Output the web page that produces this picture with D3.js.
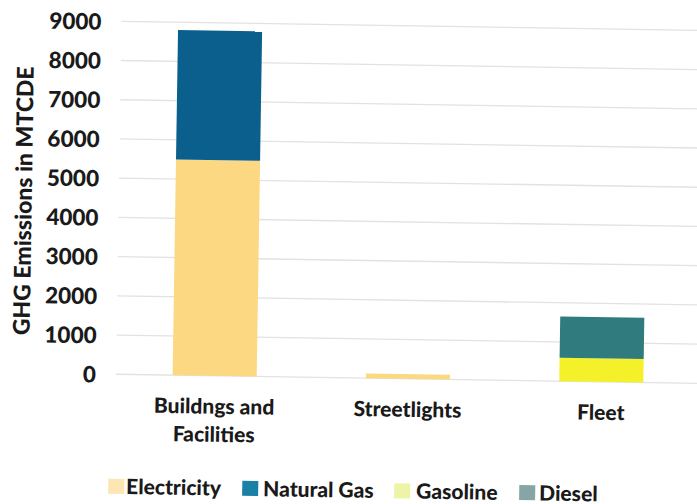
<!DOCTYPE html>
<html>
<head>
<meta charset="utf-8">
<script src="https://cdn.jsdelivr.net/npm/d3@7"></script>
<style>
  html, body { margin: 0; padding: 0; background: #fff; }
  svg { display: block; }
  text { font-family: Lato, "Open Sans", sans-serif; font-weight: 900; fill: #1a1a1a; }
</style>
</head>
<body>
<svg id="chart" width="697" height="504"></svg>
<script>
// Emission sources and their fuel breakdown (MTCDE)
const categories = ["Buildngs and\nFacilities", "Streetlights", "Fleet"];
const seriesNames = ["Electricity", "Natural Gas", "Gasoline", "Diesel"];
const electricity = [5500, 120, 0];
const naturalGas = [3300, 0, 0];
const gasoline = [0, 0, 600];
const diesel = [0, 0, 1050];
const yTicks = [0, 1000, 2000, 3000, 4000, 5000, 6000, 7000, 8000, 9000];

const barColors = ["#fdd883", "#0b5f8d", "#f4f12a", "#2f7b7d"];
const legendColors = ["#fbe6b4", "#1b80a6", "#eef4a6", "#86a6a6"];

const svg = d3.select("#chart");
// the whole page sits at a slight tilt
const g = svg.append("g").attr("transform", "rotate(0.9, 100, 374)");

const x = d3.scaleBand()
  .domain(categories)
  .range([118, 698])
  .paddingInner(0.565)
  .paddingOuter(0.2825);

const y = d3.scaleLinear().domain([0, 9000]).range([374, 21]);

// gridlines
g.append("g")
  .selectAll("line")
  .data(yTicks)
  .join("line")
  .attr("x1", 116).attr("x2", 700)
  .attr("y1", d => y(d)).attr("y2", d => y(d))
  .attr("stroke", "#e2e2e2")
  .attr("stroke-width", 1.3);

// y axis tick labels
const yAxis = d3.axisLeft(y).tickValues(yTicks).tickSize(0).tickPadding(0).tickFormat(d3.format("d"));
const ya = g.append("g").attr("transform", "translate(96,0)").call(yAxis);
ya.select(".domain").remove();
ya.selectAll("text")
  .attr("font-size", 22.5)
  .attr("font-family", "Lato, sans-serif")
  .attr("font-weight", 900)
  .attr("fill", "#1a1a1a")
  .attr("dy", "0.36em");

// y axis title
g.append("text")
  .attr("transform", "translate(29,202) rotate(-90)")
  .attr("text-anchor", "middle")
  .attr("font-size", 23)
  .text("GHG Emissions in MTCDE");

// stacked data
const rows = categories.map((c, i) => ({
  category: c,
  "Electricity": electricity[i],
  "Natural Gas": naturalGas[i],
  "Gasoline": gasoline[i],
  "Diesel": diesel[i]
}));
const stacked = d3.stack().keys(seriesNames)(rows);

g.append("g")
  .selectAll("g")
  .data(stacked)
  .join("g")
  .attr("fill", (d, i) => barColors[i])
  .selectAll("rect")
  .data(d => d.filter(p => p[1] - p[0] > 0))
  .join("rect")
  .attr("x", d => x(d.data.category))
  .attr("width", x.bandwidth())
  .attr("y", d => y(d[1]))
  .attr("height", d => y(d[0]) - y(d[1]));

// category labels
const catG = g.append("g");
categories.forEach(c => {
  const lines = c.split("\n");
  const t = catG.append("text")
    .attr("x", x(c) + x.bandwidth() / 2)
    .attr("y", 412)
    .attr("text-anchor", "middle")
    .attr("font-size", 21);
  lines.forEach((ln, k) => {
    t.append("tspan")
      .attr("x", x(c) + x.bandwidth() / 2)
      .attr("dy", k === 0 ? 0 : 28)
      .text(ln);
  });
});

// legend
const legendX = [110, 244, 396, 521];
const legendTextX = [128, 265, 418, 541];
const leg = g.append("g").attr("transform", "translate(0,486)");
seriesNames.forEach((s, i) => {
  leg.append("rect")
    .attr("x", legendX[i]).attr("y", -7.5)
    .attr("width", 16).attr("height", 15)
    .attr("fill", legendColors[i]);
  leg.append("text")
    .attr("x", legendTextX[i])
    .attr("y", 0)
    .attr("dy", "0.36em")
    .attr("font-size", 21)
    .text(s);
});
</script>
</body>
</html>
